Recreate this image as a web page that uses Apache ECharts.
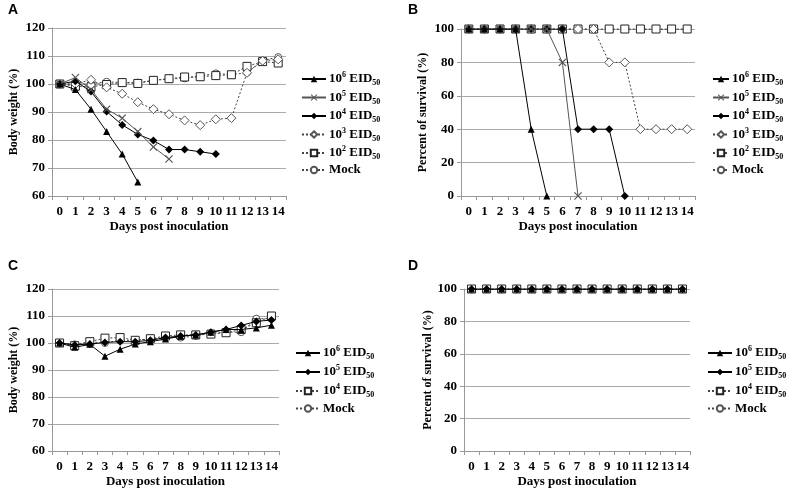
<!DOCTYPE html>
<html><head><meta charset="utf-8">
<script src="https://cdn.jsdelivr.net/npm/echarts@6/dist/echarts.min.js"></script>
<style>html,body{margin:0;padding:0;background:#fff}#c{width:787px;height:489px}</style>
</head><body><div id="c"></div>
<script>
const days = ['0','1','2','3','4','5','6','7','8','9','10','11','12','13','14'];
const yTicksWeight = [60, 120, 10];
const yTicksSurvival = [0, 100, 20];

// Panel A: body weight (%)
const aE6 = [100, 98, 91, 83, 75, 65];
const aE5 = [100, 102.3, 98, 91, 87.8, 83, 77.5, 73.2];
const aE4 = [100, 101, 97.3, 90.2, 85.4, 82, 79.8, 76.6, 76.6, 75.8, 75];
const aE3 = [100, 100, 101.5, 98.8, 96.5, 93.5, 91, 89.2, 87, 85.3, 87.4, 87.8, 104, 108.3, 108.8];
const aE2 = [100, 99.2, 99, 99.8, 100.5, 100.2, 101.3, 101.9, 102.5, 102.6, 103, 103.3, 106.3, 108, 107.5];
const aMock = [100, 100, 100, 100.8, 100.5, 100.5, 101.3, 101.8, 102, 102.8, 103.8, 103.3, 104.1, 108.4, 109.6];

// Panel B: percent of survival (%)
const bE6 = [100, 100, 100, 100, 40, 0];
const bE5 = [100, 100, 100, 100, 100, 100, 80, 0];
const bE4 = [100, 100, 100, 100, 100, 100, 100, 40, 40, 40, 0];
const bE3 = [100, 100, 100, 100, 100, 100, 100, 100, 100, 80, 80, 40, 40, 40, 40];
const bE2 = [100, 100, 100, 100, 100, 100, 100, 100, 100, 100, 100, 100, 100, 100, 100];
const bMock = [100, 100, 100, 100, 100, 100, 100, 100, 100, 100, 100, 100, 100, 100, 100];

// Panel C: body weight (%)
const cE6 = [100, 98.4, 99.5, 95.1, 97.7, 99.6, 100.5, 101.5, 102.5, 103, 104, 105, 105, 105.6, 106.6];
const cE5 = [100, 99.3, 99.6, 100.2, 100.5, 100.5, 101, 102, 102.6, 103, 104, 105, 106.5, 108, 108.5];
const cE4 = [100, 99, 100.5, 101.8, 102, 101, 101.6, 102.6, 103, 103, 103.3, 103.8, 105, 107.5, 110];
const cMock = [100, 99.5, 100.4, 100, 101, 101, 101.5, 102, 102, 102.6, 103.6, 104, 104, 109, 109];

// Panel D: percent of survival (%)
const dE6 = [100, 100, 100, 100, 100, 100, 100, 100, 100, 100, 100, 100, 100, 100, 100];
const dE5 = [100, 100, 100, 100, 100, 100, 100, 100, 100, 100, 100, 100, 100, 100, 100];
const dE4 = [100, 100, 100, 100, 100, 100, 100, 100, 100, 100, 100, 100, 100, 100, 100];
const dMock = [100, 100, 100, 100, 100, 100, 100, 100, 100, 100, 100, 100, 100, 100, 100];

const legendText = {
  A6:['6'],A5:['5'],A4:['4'],A3:['3'],A2:['2'],AM:null,
  B6:['6'],B5:['5'],B4:['4'],B3:['3'],B2:['2'],BM:null,
  C6:['6'],C5:['5'],C4:['4'],CM:null,
  D6:['6'],D5:['5'],D4:['4'],DM:null
};

const SERIF = 'Liberation Serif';
const CROSS = 'path://M0,1L1,0L5,4L9,0L10,1L6,5L10,9L9,10L5,6L1,10L0,9L4,5Z';
const styles = {
  tri:  {symbol:'triangle', symbolSize:7, item:{color:'#000'}, line:{color:'#000', width:1, type:'solid'}},
  x:    {symbol:CROSS, symbolSize:8, item:{color:'#555'}, line:{color:'#555', width:1, type:'solid'}},
  dia:  {symbol:'diamond', symbolSize:8, item:{color:'#000'}, line:{color:'#000', width:1, type:'solid'}},
  odia: {symbol:'diamond', symbolSize:9, item:{color:'#fff', borderColor:'#555', borderWidth:1}, line:{color:'#444', width:1, type:[2,2]}},
  sq:   {symbol:'rect', symbolSize:8, item:{color:'#fff', borderColor:'#222', borderWidth:1}, line:{color:'#444', width:1, type:[2,2]}},
  circ: {symbol:'circle', symbolSize:7, item:{color:'#fff', borderColor:'#555', borderWidth:1}, line:{color:'#444', width:1, type:[2,2]}}
};

function mk(name, gi, data, st, z) {
  const s = styles[st];
  return {
    type:'line', name:name, xAxisIndex:gi, yAxisIndex:gi, data:data,
    symbol:s.symbol, symbolSize:s.symbolSize, showSymbol:true,
    itemStyle:s.item, lineStyle:s.line, z:z||2, animation:false
  };
}

const grids = [
  {left:52, top:28, width:234, height:168},
  {left:461, top:29, width:234, height:167},
  {left:52, top:289, width:227, height:162},
  {left:464, top:289, width:226, height:162}
];

function xAx(gi) {
  return {
    type:'category', gridIndex:gi, data:days, boundaryGap:true,
    axisLine:{lineStyle:{color:'#999'}},
    axisTick:{show:true, length:4, interval:0, lineStyle:{color:'#999'}},
    axisLabel:{interval:0, margin:9, color:'#000', fontFamily:SERIF, fontWeight:'bold', fontSize:13},
    splitLine:{show:false},
    name:'Days post inoculation', nameLocation:'middle', nameGap:24,
    nameTextStyle:{color:'#000', fontFamily:SERIF, fontWeight:'bold', fontSize:13}
  };
}
function yAx(gi, t, name, gap) {
  return {
    type:'value', gridIndex:gi, min:t[0], max:t[1], interval:t[2],
    axisLine:{show:true, lineStyle:{color:'#999'}},
    axisTick:{show:true, length:4, lineStyle:{color:'#999'}},
    axisLabel:{margin:7, color:'#000', fontFamily:SERIF, fontWeight:'bold', fontSize:13},
    splitLine:{lineStyle:{color:'#aaa', width:1}},
    name:name, nameLocation:'middle', nameGap:gap, nameRotate:90,
    nameTextStyle:{color:'#000', fontFamily:SERIF, fontWeight:'bold', fontSize:12}
  };
}

const rich = {
  b:{fontFamily:SERIF, fontWeight:'bold', fontSize:13, color:'#000', lineHeight:16},
  sup:{fontFamily:SERIF, fontWeight:'bold', fontSize:8, color:'#000', verticalAlign:'top', lineHeight:8},
  sub:{fontFamily:SERIF, fontWeight:'bold', fontSize:8, color:'#000', verticalAlign:'bottom', lineHeight:8}
};
function lg(names, left, top, gap, w) {
  return {
    orient:'vertical', left:left, top:top, data:names, itemGap:gap,
    itemWidth:w, itemHeight:8, padding:0, selectedMode:false,
    formatter:function(n){
      const t = legendText[n];
      if (!t) return '{b|Mock}';
      return '{b|10}{sup|' + t[0] + '}{b| EID}{sub|50}';
    },
    textStyle:{rich:rich, fontFamily:SERIF, fontWeight:'bold', fontSize:13, color:'#000', padding:[0,0,0,-2]}
  };
}

const series = [
  mk('AM',0,aMock,'circ',2), mk('A2',0,aE2,'sq',3), mk('A3',0,aE3,'odia',4),
  mk('A4',0,aE4,'dia',5), mk('A5',0,aE5,'x',6), mk('A6',0,aE6,'tri',7),
  mk('BM',1,bMock,'circ',2), mk('B2',1,bE2,'sq',3), mk('B3',1,bE3,'odia',4),
  mk('B4',1,bE4,'dia',5), mk('B5',1,bE5,'x',6), mk('B6',1,bE6,'tri',7),
  mk('CM',2,cMock,'circ',2), mk('C4',2,cE4,'sq',3),
  mk('C5',2,cE5,'dia',5), mk('C6',2,cE6,'tri',7),
  mk('DM',3,dMock,'circ',2), mk('D4',3,dE4,'sq',3),
  mk('D5',3,dE5,'dia',5), mk('D6',3,dE6,'tri',7)
];

const letterStyle = {fontFamily:'Liberation Sans', fontWeight:'bold', fontSize:14, color:'#000'};
const option = {
  backgroundColor:'#fff',
  animation:false,
  title:[
    {text:'A', left:3, top:-2, textStyle:letterStyle},
    {text:'B', left:403, top:-2, textStyle:letterStyle},
    {text:'C', left:3, top:254, textStyle:letterStyle},
    {text:'D', left:403, top:254, textStyle:letterStyle}
  ],
  grid:grids,
  xAxis:[xAx(0), xAx(1), xAx(2), xAx(3)],
  yAxis:[
    yAx(0, yTicksWeight, 'Body weight (%)', 32),
    yAx(1, yTicksSurvival, 'Percent of survival (%)', 32),
    yAx(2, yTicksWeight, 'Body weight (%)', 32),
    yAx(3, yTicksSurvival, 'Percent of survival (%)', 28)
  ],
  legend:[
    lg(['A6','A5','A4','A3','A2','AM'], 301, 71, 2.5, 24),
    lg(['B6','B5','B4','B3','B2','BM'], 712, 71, 2.5, 16),
    lg(['C6','C5','C4','CM'], 295, 345, 3, 24),
    lg(['D6','D5','D4','DM'], 707, 345, 3, 24)
  ],
  series:series
};
const chart = echarts.init(document.getElementById('c'), null, {renderer:'canvas'});
chart.setOption(option);
</script></body></html>
